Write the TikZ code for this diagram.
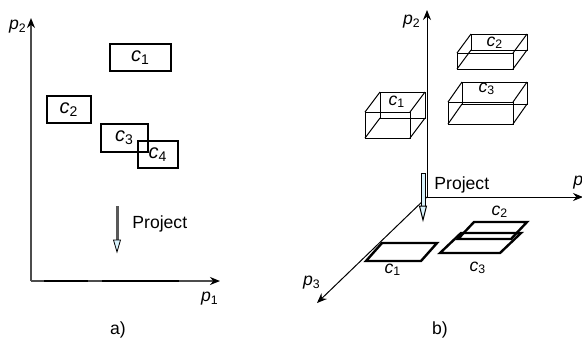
\documentclass[tikz,border=0pt]{standalone}
\usepackage{fontspec}
\setmainfont{Liberation Sans}
\usetikzlibrary{arrows.meta}

\tikzset{
  cbox/.style={draw,line width=1.3pt,inner sep=0pt},
  flat/.style={line width=1.2pt,line join=miter},
  wire/.style={line width=0.5pt},
  lbl/.style={inner sep=0pt,font=\fontsize{8.8}{10}\selectfont}
}
% italic variable with subscript
\newcommand{\vr}[2]{\textit{#1}\textsubscript{#2}}
% wire cuboid: x, y, width, height, dx, dy
\newcommand{\wirebox}[6]{%
  \draw[wire] (#1,#2) rectangle ++(#3,#4);
  \draw[wire] (#1+#5,#2+#6) rectangle ++(#3,#4);
  \draw[wire] (#1,#2) -- ++(#5,#6) (#1+#3,#2) -- ++(#5,#6)
              (#1,#2+#4) -- ++(#5,#6) (#1+#3,#2+#4) -- ++(#5,#6);}

\begin{document}
\begin{tikzpicture}[x=0.5pt,y=-0.5pt,>={Stealth[black,length=5pt,width=4pt]}]
\useasboundingbox (0,0) rectangle (582,345);

% a)
\coordinate (oa) at (31,281);
\coordinate (p2a) at (31,18);
\coordinate (p1a) at (220,281);
\draw[->,line width=0.8pt,black!70] (oa) -- (p2a);
\draw[->,line width=0.8pt,black!70] (oa) -- (p1a);
\node[lbl] (lp2a) at (18,27) {\vr{p}{2}};
\node[lbl] (lp1a) at (210,299) {\vr{p}{1}};

\node[cbox,minimum width=30.5pt,minimum height=13.5pt] (ca1) at (140.5,57.5) {\vr{c}{1}};
\node[cbox,minimum width=22pt,minimum height=13.5pt] (ca2) at (69,109.5) {\vr{c}{2}};
\node[cbox,minimum width=23.5pt,minimum height=14pt] (ca3) at (124.5,138) {\vr{c}{3}};
\node[cbox,minimum width=20pt,minimum height=13.5pt] (ca4) at (158,154.5) {\vr{c}{4}};

\draw[line width=1.2pt] (44,281) -- (88,281);
\draw[line width=1.2pt] (102,281) -- (179,281);

\fill[black!65] (115.5,206) rectangle (118.5,240);
\draw[fill=cyan!15,line width=0.4pt] (113.5,240) -- (120.5,240) -- (117,252) -- cycle;
\node[lbl,anchor=west] (pra) at (132,224) {Project};
\node[lbl] (capa) at (118,330) {a)};

% b)
\coordinate (ob) at (427,197);
\coordinate (p2b) at (427,10);
\coordinate (p1b) at (583,197);
\coordinate (p3b) at (317,303);
\draw[->,line width=0.5pt] (ob) -- (p2b);
\draw[->,line width=0.5pt] (ob) -- (p1b);
\draw[->,line width=0.5pt] (ob) -- (p3b);
\node[lbl] (lp2b) at (412,22) {\vr{p}{2}};
\node[lbl,anchor=west] (lp1b) at (573,183) {\vr{p}{1}};
\node[lbl] (lp3b) at (312,283) {\vr{p}{3}};

\wirebox{365}{112}{45}{26}{15}{-20}
\wirebox{457}{53}{56}{16}{14}{-19}
\wirebox{448}{102}{65}{22}{14}{-20}
\node[lbl] (cb1) at (397,102) {\vr{c}{1}};
\node[lbl] (cb2) at (495,43) {\vr{c}{2}};
\node[lbl] (cb3) at (487,89) {\vr{c}{3}};

\draw[flat] (366,261) -- (421,261) -- (437,243) -- (382,243) -- cycle;
\draw[flat] (458,239) -- (511,239) -- (527,222) -- (474,222) -- cycle;
\draw[flat] (440,253) -- (500,253) -- (521,233) -- (461,233) -- cycle;
\node[lbl] (fb1) at (393,270) {\vr{c}{1}};
\node[lbl] (fb2) at (500,212) {\vr{c}{2}};
\node[lbl] (fb3) at (478,268) {\vr{c}{3}};

\draw[fill=cyan!15,line width=0.5pt] (421,173) rectangle (425,207);
\draw[fill=cyan!15,line width=0.5pt] (419.5,206) -- (426.5,206) -- (423,220) -- cycle;
\node[lbl,anchor=west] (prb) at (434,185) {Project};
\node[lbl] (capb) at (440,330) {b)};
\end{tikzpicture}
\end{document}
